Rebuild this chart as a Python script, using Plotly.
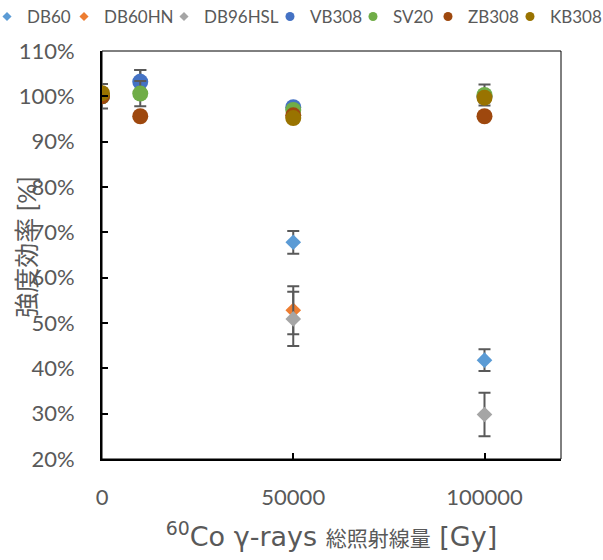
import plotly.graph_objects as go

dose = [0, 10000, 50000, 100000]

series_names = ["DB60", "DB60HN", "DB96HSL", "VB308", "SV20", "ZB308", "KB308"]
series_colors = ["#5B9BD5", "#ED7D31", "#A5A5A5", "#4472C4", "#70AD47", "#9E480E", "#997300"]
series_symbols = ["diamond", "diamond", "diamond", "circle", "circle", "circle", "circle"]

db60 = [1.000, 1.036, 0.678, 0.418]
db60_err = [0.027, 0.022, 0.025, 0.024]
db60hn = [1.000, None, 0.528, None]
db60hn_err = [0.010, 0.0, 0.053, 0.0]
db96hsl = [1.000, None, 0.509, 0.298]
db96hsl_err = [0.010, 0.0, 0.060, 0.048]
vb308 = [1.000, 1.032, 0.976, 1.000]
vb308_err = [0.010, 0.026, 0.008, 0.008]
sv20 = [1.000, 1.006, 0.970, 1.003]
sv20_err = [0.010, 0.028, 0.008, 0.023]
zb308 = [1.000, 0.956, 0.958, 0.956]
zb308_err = [0.008, 0.008, 0.008, 0.008]
kb308 = [1.007, None, 0.952, 0.997]
kb308_err = [0.010, 0.0, 0.008, 0.010]

values = [db60, db60hn, db96hsl, vb308, sv20, zb308, kb308]
errors = [db60_err, db60hn_err, db96hsl_err, vb308_err, sv20_err, zb308_err, kb308_err]

x_ticks = [0, 50000, 100000]
y_ticks = [0.2, 0.3, 0.4, 0.5, 0.6, 0.7, 0.8, 0.9, 1.0, 1.1]

# left edges (px) of the seven one-entry legends along the top, and their indentation
legend_left_px = [0, 64, 164, 270, 353, 428, 510]
legend_indent = [-13, 0, 0, 0, 0, 0, 0]

FONT = "Lato, 'Noto Sans CJK JP', sans-serif"
TITLE_FONT = "'DejaVu Sans', 'Noto Sans CJK JP', sans-serif"
GRAY = "#595959"
W, H = 603, 560

fig = go.Figure()
# data marks
for name, col, sym, yv, ev in zip(series_names, series_colors, series_symbols, values, errors):
    fig.add_trace(go.Scatter(
        x=dose, y=yv, name=name, mode="markers", showlegend=False,
        marker=dict(symbol=sym, color=col, size=12 if sym == "diamond" else 16,
                    line=dict(width=0)),
        error_y=dict(type="data", array=ev, visible=True, color=GRAY,
                     thickness=2, width=6),
    ))

# legend entries (small symbols, as in the reference)
legend_layout = {}
for i, (name, col, sym) in enumerate(zip(series_names, series_colors, series_symbols)):
    lid = "legend" if i == 0 else f"legend{i + 1}"
    fig.add_trace(go.Scatter(
        x=[None], y=[None], name=name, mode="markers", legend=lid,
        marker=dict(symbol=sym, color=col, size=7 if sym == "diamond" else 9,
                    line=dict(width=0)),
    ))
    legend_layout[lid] = dict(
        orientation="h", xref="container", yref="container",
        x=legend_left_px[i] / W, xanchor="left", y=1 - 17 / H, yanchor="middle",
        indentation=legend_indent[i],
        font=dict(family=FONT, size=17, color=GRAY),
        bgcolor="rgba(0,0,0,0)", borderwidth=0, itemclick=False,
        itemdoubleclick=False,
    )

fig.update_layout(
    width=W, height=H,
    margin=dict(l=102, r=42, t=51, b=101, autoexpand=False),
    paper_bgcolor="white", plot_bgcolor="white",
    font=dict(family=FONT, color=GRAY, size=22),
    showlegend=True,
    xaxis=dict(range=[0, 120000], tickvals=x_ticks, tickformat="d",
               ticks="inside", ticklen=6, tickcolor="black", tickwidth=1.5,
               showline=True, linecolor="black", linewidth=2, mirror=False,
               showgrid=False, zeroline=False, ticklabelstandoff=18,
               automargin=False,
               tickfont=dict(size=22, color=GRAY),
               title=dict(text="<sup>60</sup>Co γ-rays <span style='font-size:21px'>総照射線量</span> [Gy]",
                          font=dict(size=27, color=GRAY, family=TITLE_FONT), standoff=18)),
    yaxis=dict(range=[0.2, 1.1], tickvals=y_ticks, tickformat=".0%",
               ticks="inside", ticklen=6, tickcolor="black", tickwidth=1.5,
               showline=True, linecolor="black", linewidth=2, mirror=False,
               showgrid=False, zeroline=False, ticklabelstandoff=21,
               automargin=False,
               tickfont=dict(size=22, color=GRAY)),
    annotations=[dict(text="強度効率 [%]", textangle=-90, xref="paper", yref="paper",
                      x=0, y=0.52, xanchor="center", yanchor="middle", xshift=-76,
                      showarrow=False, font=dict(size=25, color=GRAY, family=FONT))],
    shapes=[dict(type="rect", xref="paper", yref="paper", x0=0, x1=1, y0=0, y1=1,
                 line=dict(color="black", width=1), layer="below")],
    **legend_layout,
)

fig.write_html("out.html", config={"displayModeBar": False},
               post_script="document.body.style.margin='0px';document.body.style.overflow='hidden';")
